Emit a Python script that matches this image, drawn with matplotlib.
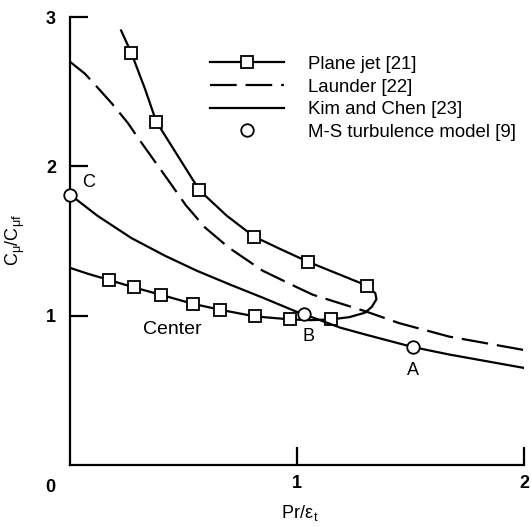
import matplotlib
matplotlib.use('Agg')
import matplotlib.pyplot as plt

plt.rcParams['font.family'] = ['Liberation Sans', 'DejaVu Sans']
plt.rcParams['mathtext.fontset'] = 'custom'
plt.rcParams['mathtext.rm'] = 'Liberation Sans'
plt.rcParams['mathtext.it'] = 'Liberation Sans'

# plane jet [21]: one C-shaped curve (upper branch, bend, lower branch)
jet_x = [0.225, 0.27, 0.33, 0.38, 0.475, 0.57, 0.69, 0.81, 0.935, 1.05, 1.18, 1.31,
         1.345, 1.35, 1.33, 1.30, 1.23, 1.15, 1.06, 0.97, 0.815, 0.66, 0.54, 0.40,
         0.28, 0.17, 0.08, 0.0]
jet_y = [2.91, 2.76, 2.52, 2.30, 2.07, 1.84, 1.67, 1.53, 1.44, 1.36, 1.28, 1.20,
         1.15, 1.11, 1.06, 1.02, 0.99, 0.975, 0.97, 0.975, 0.995, 1.04, 1.08, 1.14,
         1.19, 1.24, 1.28, 1.32]
jet_mx = [0.27, 0.38, 0.57, 0.81, 1.05, 1.31, 1.15, 0.97, 0.815, 0.66, 0.54, 0.40, 0.28, 0.17]
jet_my = [2.76, 2.30, 1.84, 1.53, 1.36, 1.20, 0.975, 0.975, 0.995, 1.04, 1.08, 1.14, 1.19, 1.24]

# Launder [22]
lau_x = [0.0, 0.066, 0.12, 0.185, 0.255, 0.30, 0.375, 0.45, 0.51, 0.595, 0.70, 0.85,
         1.0, 1.07, 1.30, 1.45, 1.67, 2.0]
lau_y = [2.70, 2.62, 2.53, 2.42, 2.29, 2.19, 2.03, 1.87, 1.74, 1.59, 1.455, 1.30,
         1.19, 1.14, 1.03, 0.95, 0.86, 0.77]

# Kim and Chen [23]
kim_x = [0.0, 0.035, 0.12, 0.27, 0.42, 0.56, 0.71, 0.85, 1.0, 1.03, 1.19, 1.31, 1.51, 1.67, 2.0]
kim_y = [1.81, 1.77, 1.67, 1.52, 1.40, 1.30, 1.205, 1.12, 1.025, 1.01, 0.92, 0.87, 0.79, 0.74, 0.65]

# M-S turbulence model [9]
ms_x = [0.0, 1.03, 1.51]
ms_y = [1.81, 1.01, 0.79]

fig = plt.figure(figsize=(5.32, 5.27), dpi=100)
ax = fig.add_axes([70 / 532, 1 - 465 / 527, 454 / 532, 448 / 527])

ax.plot(jet_x, jet_y, color='black', lw=1.6)
ax.plot(jet_mx, jet_my, ls='none', marker='s', ms=8.5, mfc='white', mec='black', mew=1.3)
ax.plot([], [], color='black', lw=1.6, marker='s', ms=8.5, mfc='white', mec='black',
        mew=1.3, label='Plane jet [21]')
ax.plot(lau_x, lau_y, color='black', lw=1.6, dashes=(12, 4), label='Launder [22]')
ax.plot(kim_x, kim_y, color='black', lw=1.6, label='Kim and Chen [23]')
ax.plot(ms_x, ms_y, ls='none', marker='o', ms=9, mfc='white', mec='black', mew=1.3,
        label='M-S turbulence model [9]', clip_on=False, zorder=5)

ax.text(0.08, 1.89, 'C', fontsize=13, ha='center', va='center')
ax.text(1.05, 0.86, 'B', fontsize=13, ha='center', va='center')
ax.text(1.51, 0.63, 'A', fontsize=13, ha='center', va='center')
ax.text(0.45, 0.91, 'Center', fontsize=14, ha='center', va='center')

ax.set_xlim(0, 2)
ax.set_ylim(0, 3)
ax.spines['top'].set_visible(False)
ax.spines['right'].set_visible(False)
ax.spines['left'].set_linewidth(1.6)
ax.spines['bottom'].set_linewidth(1.6)
ax.set_xticks([1, 2])
ax.set_yticks([1, 2, 3])
ax.tick_params(direction='in', length=13, width=1.6, labelsize=13)
ax.tick_params(axis='x', pad=7)
ax.tick_params(axis='y', pad=10)
for lab in ax.get_xticklabels() + ax.get_yticklabels():
    lab.set_fontweight('bold')
ax.text(-0.088, -0.154, '0', fontsize=13, fontweight='bold', ha='center', va='center',
        clip_on=False)

ax.text(0.507, -0.107, r'Pr/$\epsilon_{\,t}$', fontsize=13, ha='center', va='center',
        transform=ax.transAxes)
ax.text(-0.121, 0.502, r'C$_{\mu}$/C$_{\mu f}$', fontsize=13, ha='center', va='center',
        rotation=90, transform=ax.transAxes)

ax.legend(loc='upper left', bbox_to_anchor=(0.308, 0.913), frameon=False, fontsize=13.4,
          handlelength=4.0, handletextpad=1.25, labelspacing=0.3, borderpad=0,
          borderaxespad=0, numpoints=1)

fig.savefig('out.png', dpi=100)
